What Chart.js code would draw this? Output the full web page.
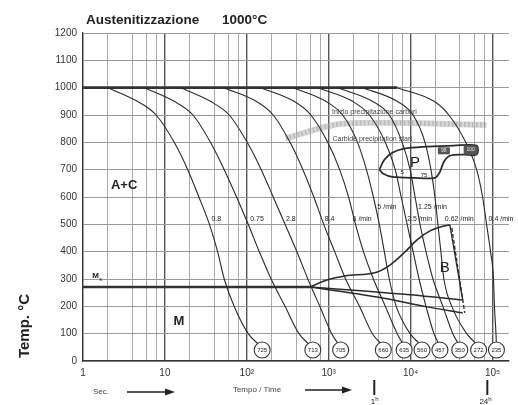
<!DOCTYPE html>
<html>
<head>
<meta charset="utf-8">
<script src="https://cdn.jsdelivr.net/npm/chart.js@4.4.1/dist/chart.umd.min.js"></script>
<style>
  html, body { margin: 0; padding: 0; background: #fff; }
  canvas { display: block; }
</style>
</head>
<body>
<canvas id="cct" width="518" height="405"></canvas>
<script>
// --- data (time in s, temperature in °C) ---
const coolTemps = [1000, 950, 900, 800, 700, 600, 500, 400, 300, 200, 100, 55];
const coolTimes = [
  [2.0, 4.6, 7.8, 13, 19, 26, 35, 44, 53, 70, 104, 146],
  [5.6, 13, 22, 36, 53, 75, 104, 142, 198, 293, 433, 605],
  [15.6, 36, 61, 101, 150, 210, 293, 409, 556, 778, 1087, 1360],
  [52, 130, 210, 337, 484, 658, 869, 1182, 1607, 2376, 3414, 4645],
  [146, 377, 605, 973, 1360, 1747, 2125, 2656, 3511, 4909, 6858, 8342],
  [366, 920, 1478, 2247, 2888, 3511, 4150, 4775, 5488, 6670, 9862, 13780],
  [736, 1954, 3140, 4909, 6490, 7670, 9074, 10720, 12680, 15410, 19280, 22790],
  [1285, 3414, 5488, 7887, 9862, 11340, 13030, 15410, 18740, 24770, 32750, 39810],
  [2583, 6858, 10720, 14990, 17720, 19810, 21540, 23420, 25470, 31840, 48400, 67660],
  [6858, 19280, 29300, 47080, 63970, 75650, 84590, 94570, 102800, 105600, 110200, 111700]
];
const rateLabels = ['0.8', '0.75', '2.8', '8.4', '6 /min', '5 /min', '2.5 /min', '1.25 /min', '0.62 /min', '0.4 /min'];
const rateLabelTimes = [37, 110, 301, 895, 1954, 3926, 9074, 12330, 26190, 89470];
const rateLabelTemps = [520, 520, 520, 520, 520, 564, 520, 564, 520, 520];

const hardness = ['725', '713', '705', '660', '635', '560', '457', '350', '272', '235'];
const hardnessTimes = [154, 640, 1398, 4645, 8342, 13780, 22790, 39810, 67660, 111700];
const hardnessTemps = [40, 40, 40, 40, 40, 40, 40, 40, 40, 40];

const austTimes = [1, 6858];
const austTemps = [1000, 1000];
const msTimes = [1, 589];
const msTemps = [271, 271];

const bsTimes = [589, 973, 1563, 3926, 5646, 8342, 11990, 17230, 25470, 30130];
const bsTemps = [271, 297, 311, 326, 352, 396, 443, 476, 494, 498];
const bfTimes = [30130, 43270];
const bfTemps = [498, 223];
const bfDashTimes = [31840, 45790];
const bfDashTemps = [487, 176];
const bLow1Times = [589, 9862, 43270];
const bLow1Temps = [271, 242, 223];
const bLow2Times = [589, 3926, 15850, 43270];
const bLow2Temps = [271, 234, 198, 176];

const pTimes = [4150, 4775, 5970, 8340, 15850, 33660, 63970, 63970, 44460, 30130, 25470, 22790, 19810, 11030, 5970, 4645, 4150];
const pTemps = [700, 736, 762, 777, 784, 788, 788, 755, 755, 751, 729, 692, 670, 670, 674, 685, 700];

const carbTimes = [300, 1478, 84590];
const carbTemps = [815, 868, 864];

const xTickValues = [1, 10, 100, 1000, 10000, 100000];
const xTickLabels = ['1', '10', '10²', '10³', '10⁴', '10⁵'];
const xGridValues = [1, 2, 4, 6, 8, 10, 20, 40, 60, 80, 100, 200, 400, 600, 800, 1000,
  2000, 4000, 6000, 8000, 10000, 20000, 40000, 60000, 80000, 100000];

Chart.defaults.font.family = "'Liberation Sans', Arial, sans-serif";
Chart.defaults.color = '#333';

function line(times, temps, extra) {
  return Object.assign({
    showLine: true,
    pointRadius: 0,
    data: times.map((t, i) => ({ x: t, y: temps[i] })),
    borderColor: '#2a2a2a',
    borderWidth: 1.1,
    fill: false
  }, extra || {});
}

const datasets = [];
// hardness circles on top
datasets.push({
  data: hardnessTimes.map((t, i) => ({ x: t, y: hardnessTemps[i] })),
  showLine: false,
  pointRadius: 8,
  pointBackgroundColor: '#fff',
  pointBorderColor: '#333',
  pointBorderWidth: 1.1,
  order: -1
});
coolTimes.forEach(times => datasets.push(line(times, coolTemps, { cubicInterpolationMode: 'monotone' })));
datasets.push(line(austTimes, austTemps, { borderWidth: 2.6, borderColor: '#333' }));
datasets.push(line(msTimes, msTemps, { borderWidth: 2.4, borderColor: '#333' }));
datasets.push(line(bsTimes, bsTemps, { borderWidth: 1.6, cubicInterpolationMode: 'monotone' }));
datasets.push(line(bfTimes, bfTemps, { borderWidth: 1.3 }));
datasets.push(line(bfDashTimes, bfDashTemps, { borderWidth: 1.3, borderDash: [4, 2] }));
datasets.push(line(bLow1Times, bLow1Temps, { borderWidth: 1.5, cubicInterpolationMode: 'monotone' }));
datasets.push(line(bLow2Times, bLow2Temps, { borderWidth: 1.5, cubicInterpolationMode: 'monotone' }));
datasets.push(line(pTimes, pTemps, { borderWidth: 1.8, tension: 0.3 }));
datasets.push(line(carbTimes, carbTemps, { borderWidth: 6, borderColor: 'rgba(175,175,175,0.5)', tension: 0.3, order: 5 }));
datasets.push(line(carbTimes, carbTemps, { borderWidth: 5, borderColor: 'rgba(120,120,120,0.3)', borderDash: [1.5, 2.5], tension: 0.3, order: 4 }));

const annotations = {
  id: 'annotations',
  afterDatasetsDraw(chart) {
    const c = chart.ctx;
    const sx = chart.scales.x, sy = chart.scales.y;
    const px = t => sx.getPixelForValue(t);
    const py = T => sy.getPixelForValue(T);
    c.save();
    c.fillStyle = '#222';
    c.textBaseline = 'middle';

    // rate labels
    c.font = "7px 'Liberation Sans', Arial, sans-serif";
    c.textAlign = 'left';
    rateLabels.forEach((s, i) => {
      c.fillText(s, px(rateLabelTimes[i]), py(rateLabelTemps[i]));
    });

    // hardness values inside circles
    c.textAlign = 'center';
    c.font = "6px 'Liberation Sans', Arial, sans-serif";
    hardness.forEach((s, i) => c.fillText(s, px(hardnessTimes[i]), py(hardnessTemps[i]) + 0.5));

    // phase fields
    c.font = "bold 13px 'Liberation Sans', Arial, sans-serif";
    c.fillText('A+C', px(3.18), py(641));
    c.fillText('M', px(14.8), py(143));
    c.font = "15px 'Liberation Sans', Arial, sans-serif";
    c.fillText('P', px(11340), py(725));
    c.fillText('B', px(26190), py(341));

    // Ms
    c.font = "bold 8px 'Liberation Sans', Arial, sans-serif";
    c.textAlign = 'left';
    c.fillText('M', px(1.3), py(310));
    c.font = "6px 'Liberation Sans', Arial, sans-serif";
    c.fillText('s', px(1.3) + 7, py(300));

    // small numbers in P field
    c.textAlign = 'center';
    c.font = "6px 'Liberation Sans', Arial, sans-serif";
    c.fillText('5', px(7887), py(689));
    c.fillText('75', px(14590), py(681));
    c.fillStyle = '#555';
    c.fillRect(px(25470) - 6, py(769) - 3.5, 12, 7);
    c.fillRect(px(54090) - 7, py(788), 14, 9);
    c.fillStyle = '#eee';
    c.font = "5px 'Liberation Sans', Arial, sans-serif";
    c.fillText('98', px(25470), py(769));
    c.fillText('100', px(54090), py(788) + 4.5);

    // carbide precipitation
    c.fillStyle = '#444';
    c.font = "7px 'Liberation Sans', Arial, sans-serif";
    c.fillText('Inizio precipitazione carburi', px(3612), py(912));
    c.fillText('Carbide precipitation start', px(3414), py(813));

    // title
    c.fillStyle = '#222';
    c.textAlign = 'left';
    c.textBaseline = 'alphabetic';
    c.font = "bold 13.5px 'Liberation Sans', Arial, sans-serif";
    c.fillText('Austenitizzazione', 86, 24);
    c.fillText('1000°C', 222, 24);

    // y title
    c.save();
    c.translate(25, 326);
    c.rotate(-Math.PI / 2);
    c.textAlign = 'center';
    c.textBaseline = 'middle';
    c.font = "bold 15px 'Liberation Sans', Arial, sans-serif";
    c.fillText('Temp. °C', 0, 0);
    c.restore();

    // bottom captions and arrows
    c.font = "8px 'Liberation Sans', Arial, sans-serif";
    c.textBaseline = 'middle';
    c.fillStyle = '#444';
    c.fillText('Sec.', 93, 392);
    c.textAlign = 'center';
    c.fillText('Tempo / Time', 257, 390);
    c.strokeStyle = '#222';
    c.fillStyle = '#222';
    c.lineWidth = 1.5;
    [[127, 175, 392], [305, 352, 390]].forEach(([x0, x1, y]) => {
      c.beginPath(); c.moveTo(x0, y); c.lineTo(x1 - 8, y); c.stroke();
      c.beginPath(); c.moveTo(x1, y); c.lineTo(x1 - 10, y - 3.5); c.lineTo(x1 - 10, y + 3.5); c.closePath(); c.fill();
    });
    [[3600, '1'], [86400, '24']].forEach(([t, s]) => {
      const x = px(t);
      c.lineWidth = 2;
      c.beginPath(); c.moveTo(x, 380); c.lineTo(x, 395); c.stroke();
      c.font = "8px 'Liberation Sans', Arial, sans-serif";
      c.textAlign = 'right';
      c.fillText(s, x + 1, 402);
      c.font = "6px 'Liberation Sans', Arial, sans-serif";
      c.textAlign = 'left';
      c.fillText('h', x + 1, 399);
    });
    c.restore();
  }
};

new Chart(document.getElementById('cct'), {
  type: 'scatter',
  data: { datasets },
  options: {
    responsive: false,
    animation: false,
    events: [],
    layout: { padding: { left: 0, top: 33, right: 5, bottom: 0 } },
    plugins: { legend: { display: false }, tooltip: { enabled: false } },
    scales: {
      x: {
        type: 'logarithmic',
        min: 1,
        max: 158489,
        afterBuildTicks: axis => { axis.ticks = xGridValues.map(v => ({ value: v })); },
        afterFit: axis => { axis.height = 44; },
        ticks: {
          autoSkip: false,
          maxRotation: 0,
          padding: 6,
          font: { size: 10 },
          color: '#333',
          callback: v => {
            const i = xTickValues.indexOf(v);
            return i < 0 ? '' : xTickLabels[i];
          }
        },
        grid: {
          drawTicks: false,
          color: c => xTickValues.includes(c.tick && c.tick.value) ? '#555' : '#aaa',
          lineWidth: c => xTickValues.includes(c.tick && c.tick.value) ? 1.4 : 1
        },
        border: { color: '#333', width: 1.2 }
      },
      y: {
        min: 0,
        max: 1200,
        afterFit: axis => { axis.width = 83; },
        ticks: { stepSize: 100, padding: 6, font: { size: 10 }, color: '#333', callback: v => String(v) },
        grid: { drawTicks: false, color: '#9a9a9a' },
        border: { color: '#333', width: 1.2 }
      }
    }
  },
  plugins: [annotations]
});
</script>
</body>
</html>
